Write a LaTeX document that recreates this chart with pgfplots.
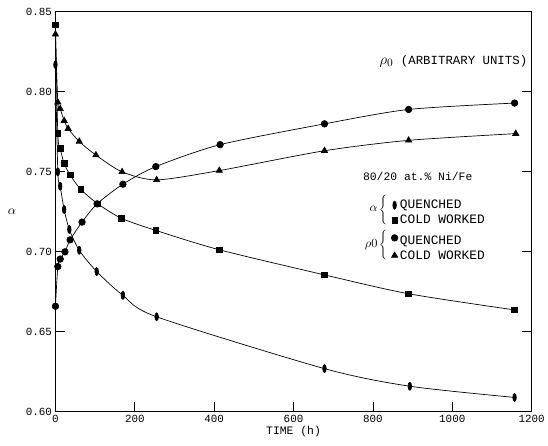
\documentclass[border=0pt]{standalone}
\usepackage{graphicx}
\usepackage{pgfplots}
\pgfplotsset{compat=1.18}
\usepackage{fontspec}
\setmainfont{Liberation Mono}
\begin{document}
\begin{tikzpicture}
\begin{axis}[
  scale only axis,
  width=481pt, height=404pt,
  xmin=0, xmax=1200, ymin=0.60, ymax=0.85,
  xtick={0,200,...,1200},
  ytick={0.60,0.65,0.70,0.75,0.80,0.85},
  tick align=inside,
  major tick length=10pt,
  xtick pos=left,
  ytick pos=both,
  yticklabel pos=left,
  axis line style={line width=1.1pt},
  tick style={line width=0.8pt, black},
  /pgf/number format/assume math mode=true,
  yticklabel style={/pgf/number format/.cd, fixed, fixed zerofill, precision=2},
  xticklabel style={/pgf/number format/.cd, fixed, 1000 sep={}},
  ticklabel style={font=\fontsize{11}{13}\selectfont},
  xlabel={TIME (h)},
  xlabel style={font=\fontsize{11.5}{13}\selectfont, yshift=3pt},
  ylabel={\scalebox{1.3}{$\alpha$}},
  ylabel style={rotate=-90, xshift=-3pt},
  legend style={at={(axis cs:846,0.7337)}, anchor=north west, draw=none, fill=none,
    font=\fontsize{13}{13}\selectfont, inner sep=0pt, row sep=1pt},
  legend cell align=left,
  legend image code/.code={\path[only marks,#1] plot coordinates {(0.1cm,0cm)};},
  every axis plot/.append style={black, line width=0.7pt, smooth, tension=0.45},
]
% alpha quenched
\addplot[mark=*, mark options={fill=black, xscale=0.6, yscale=1.35}, mark size=3pt] coordinates {
(0,0.817)(6,0.750)(12,0.741)(22,0.7264)(35,0.714)(60,0.701)(104,0.6877)(170,0.6728)(255,0.6594)(678,0.627)(893,0.616)(1157,0.609)};
\addlegendentry{QUENCHED}
% alpha cold worked
\addplot[mark=square*, mark options={fill=black}, mark size=2.8pt] coordinates {
(0,0.842)(6,0.774)(12,0.7646)(22,0.7553)(37,0.748)(64,0.739)(107,0.730)(166,0.721)(253,0.7134)(413,0.7013)(678,0.6856)(890,0.6738)(1157,0.6637)};
\addlegendentry{COLD WORKED}
% rho0 quenched
\addplot[mark=*, mark options={fill=black}, mark size=3.3pt] coordinates {
(0,0.666)(6,0.6908)(12,0.6955)(24,0.700)(37,0.7075)(67,0.7186)(105,0.730)(170,0.7423)(253,0.7533)(415,0.767)(678,0.780)(890,0.789)(1157,0.793)};
\addlegendentry{\rule{0pt}{14pt}QUENCHED}
% rho0 cold worked
\addplot[mark=triangle*, mark options={fill=black}, mark size=3.6pt] coordinates {
(0,0.836)(6,0.7935)(12,0.7894)(22,0.782)(32,0.777)(60,0.769)(102,0.7605)(168,0.750)(255,0.745)(413,0.7508)(678,0.7632)(890,0.7697)(1160,0.7739)};
\addlegendentry{COLD WORKED}
\node[font=\fontsize{12.5}{14}\selectfont] at (axis cs:1003,0.819) {\scalebox{1.25}{$\rho_0$} (ARBITRARY UNITS)};
\node[font=\fontsize{11.5}{13}\selectfont] at (axis cs:913,0.747) {80/20 at.\% Ni/Fe};
\node[anchor=east, inner sep=1pt] at (axis cs:842,0.7265) {\scalebox{1.25}{$\alpha$}\,$\left\{\vrule height 12pt depth 12pt width 0pt\right.$};
\node[anchor=east, inner sep=1pt] at (axis cs:842,0.7045) {\scalebox{1.25}{$\rho0$}\,$\left\{\vrule height 12pt depth 12pt width 0pt\right.$};
\coordinate (bl) at (rel axis cs:0,0);
\coordinate (tr) at (rel axis cs:1,1);
\end{axis}
\path ([shift={(-56pt,-34pt)}]bl) rectangle ([shift={(11pt,12pt)}]tr);
\end{tikzpicture}
\end{document}
